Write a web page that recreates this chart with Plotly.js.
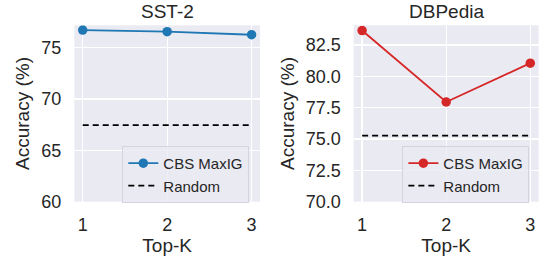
<!DOCTYPE html>
<html>
<head>
<meta charset="utf-8">
<script src="https://cdn.plot.ly/plotly-3.0.1.min.js"></script>
<style>html,body{margin:0;padding:0;background:#fff;}#chart{width:545px;height:262px;}</style>
</head>
<body>
<div id="chart"></div>
<script>
const topK = [1, 2, 3];
const sstMaxIG = [76.7, 76.55, 76.25];
const sstRandom = [67.45, 67.45, 67.45];
const dbpMaxIG = [83.65, 77.95, 81.05];
const dbpRandom = [75.27, 75.27, 75.27];
const panelTitles = ['SST-2', 'DBPedia'];
const sstTicks = [60, 65, 70, 75];
const dbpTicks = [70, 72.5, 75, 77.5, 80, 82.5];

const font = 'Liberation Sans, Arial, sans-serif';
const txt = '#262626';
const blue = '#1f77b4', red = '#d62728';

const traces = [
  {x: topK, y: sstMaxIG, name: 'CBS MaxIG', mode: 'lines+markers', xaxis: 'x', yaxis: 'y',
   line: {color: blue, width: 1.8}, marker: {color: blue, size: 9.5}, legend: 'legend'},
  {x: topK, y: sstRandom, name: 'Random', mode: 'lines', xaxis: 'x', yaxis: 'y',
   line: {color: '#000', width: 1.8, dash: '6px,4px'}, legend: 'legend'},
  {x: topK, y: dbpMaxIG, name: 'CBS MaxIG', mode: 'lines+markers', xaxis: 'x2', yaxis: 'y2',
   line: {color: red, width: 1.8}, marker: {color: red, size: 9.5}, legend: 'legend2'},
  {x: topK, y: dbpRandom, name: 'Random', mode: 'lines', xaxis: 'x2', yaxis: 'y2',
   line: {color: '#000', width: 1.8, dash: '6px,4px'}, legend: 'legend2'}
];

const xCommon = {range: [0.9, 3.1], tickvals: topK, ticktext: topK.map(String), showgrid: true,
  gridcolor: '#ffffff', gridwidth: 1.3, zeroline: false, showline: false, ticks: '',
  ticklabelstandoff: 10, tickfont: {family: font, size: 18, color: txt},
  title: {text: 'Top-K', font: {family: font, size: 19, color: txt}, standoff: 4}};
const yCommon = {showgrid: true, gridcolor: '#ffffff', gridwidth: 1.3, zeroline: false, showline: false,
  ticks: '', ticklabelstandoff: 12, tickfont: {family: font, size: 18, color: txt},
  title: {text: 'Accuracy (%)', font: {family: font, size: 19, color: txt}, standoff: 6},
  domain: [0.2302, 0.9035]};

const legCommon = {bgcolor: 'rgba(234,234,242,0.8)', bordercolor: '#d4d4dc', borderwidth: 1,
  font: {family: font, size: 15, color: txt}, xanchor: 'left', yanchor: 'top',
  tracegroupgap: 0, itemwidth: 30};

const layout = {
  width: 545, height: 262,
  margin: {l: 0, r: 0, t: 0, b: 0},
  paper_bgcolor: '#ffffff', plot_bgcolor: '#EAEAF2',
  showlegend: true,
  xaxis: Object.assign({}, xCommon, {domain: [0.1363, 0.4771], anchor: 'y'}),
  xaxis2: Object.assign({}, xCommon, {domain: [0.649, 0.9884], anchor: 'y2'}),
  yaxis: Object.assign({}, yCommon, {range: [60, 77.17], tickvals: sstTicks,
    ticktext: sstTicks.map(v => String(v)), anchor: 'x'}),
  yaxis2: Object.assign({}, yCommon, {range: [70, 84.07], tickvals: dbpTicks,
    ticktext: dbpTicks.map(v => v.toFixed(1)), anchor: 'x2'}),
  legend: Object.assign({}, legCommon, {x: 0.2244, y: 0.443}),
  legend2: Object.assign({}, legCommon, {x: 0.7383, y: 0.443}),
  annotations: panelTitles.map((t, i) => ({
    text: t, xref: 'paper', yref: 'paper', showarrow: false,
    x: i === 0 ? (0.1363 + 0.4771) / 2 : (0.649 + 0.9884) / 2, y: 1 - 12 / 262,
    xanchor: 'center', yanchor: 'middle',
    font: {family: font, size: 19, color: txt}
  }))
};

Plotly.newPlot('chart', traces, layout, {displayModeBar: false, staticPlot: true});
</script>
</body>
</html>
